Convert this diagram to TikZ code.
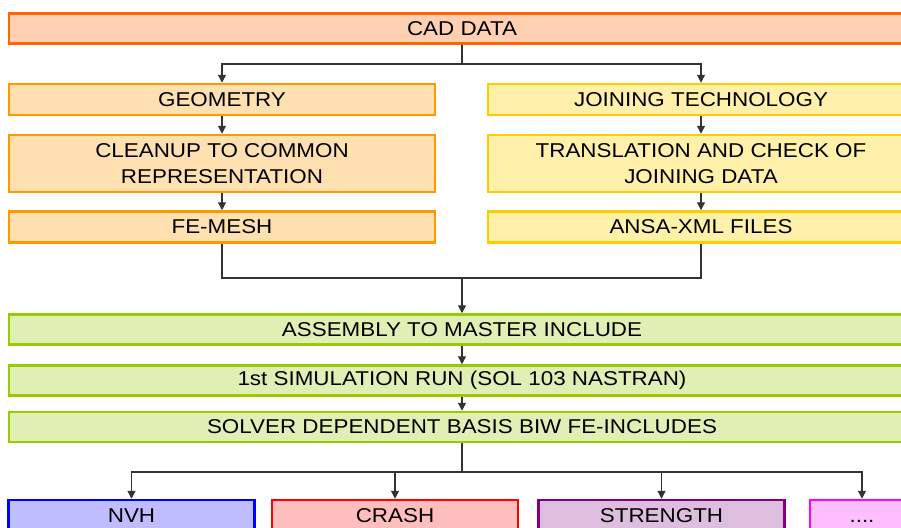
\documentclass[tikz,border=0pt]{standalone}
\usepackage{fontspec}
\setmainfont{Liberation Sans}[FakeStretch=1.12]
\usetikzlibrary{arrows.meta}
\definecolor{CadLine}{RGB}{255,102,0}
\definecolor{CadFill}{RGB}{255,208,178}
\definecolor{GeoLine}{RGB}{255,153,0}
\definecolor{GeoFill}{RGB}{255,224,176}
\definecolor{JoinLine}{RGB}{255,204,0}
\definecolor{JoinFill}{RGB}{255,241,170}
\definecolor{AsmLine}{RGB}{153,204,0}
\definecolor{AsmFill}{RGB}{224,240,180}
\definecolor{NvhLine}{RGB}{0,0,255}
\definecolor{NvhFill}{RGB}{190,190,255}
\definecolor{CrashLine}{RGB}{255,0,0}
\definecolor{CrashFill}{RGB}{255,190,190}
\definecolor{StrLine}{RGB}{128,0,128}
\definecolor{StrFill}{RGB}{222,190,222}
\definecolor{MoreLine}{RGB}{255,0,255}
\definecolor{MoreFill}{RGB}{255,190,255}

\begin{document}
\begin{tikzpicture}[
  x=1pt, y=-1pt,
  font=\fontsize{20}{26}\selectfont,
  box/.style={draw, line width=2.5pt, rectangle, inner sep=0pt, align=center},
  wide/.style={box, minimum width=906pt, minimum height=30pt},
  half/.style={box, minimum width=426pt, minimum height=31pt},
  leaf/.style={box, minimum width=246pt, minimum height=31pt},
  link/.style={draw=black!80, line width=1.2pt},
  arr/.style={link, -{Triangle[length=8pt,width=8pt]}},
]
\clip (0,0) rectangle (901,527);

% Row: CAD data
\node[wide, draw=CadLine, fill=CadFill] (cad) at (462,28.5) {CAD DATA};

% Column: geometry
\node[half, draw=GeoLine, fill=GeoFill] (geom)  at (222,99.5) {GEOMETRY};
\node[half, draw=GeoLine, fill=GeoFill, minimum height=57pt] (clean) at (222,163.5) {CLEANUP TO COMMON\\REPRESENTATION};
\node[half, draw=GeoLine, fill=GeoFill] (mesh)  at (222,227) {FE-MESH};

% Column: joining
\node[half, draw=JoinLine, fill=JoinFill] (join)  at (701,99.5) {JOINING TECHNOLOGY};
\node[half, draw=JoinLine, fill=JoinFill, minimum height=57pt] (trans) at (701,163.5) {TRANSLATION AND CHECK OF\\JOINING DATA};
\node[half, draw=JoinLine, fill=JoinFill] (xml)   at (701,227) {ANSA-XML FILES};

% Rows: assembly and first run
\node[wide, draw=AsmLine, fill=AsmFill] (asm)    at (462,329.5) {ASSEMBLY TO MASTER INCLUDE};
\node[wide, draw=AsmLine, fill=AsmFill] (sim)    at (462,380.5) {1st SIMULATION RUN (SOL 103 NASTRAN)};
\node[wide, draw=AsmLine, fill=AsmFill] (solver) at (462,427)   {SOLVER DEPENDENT BASIS BIW FE-INCLUDES};

% Row: disciplines
\node[leaf, draw=NvhLine,   fill=NvhFill]   (nvh)    at (131.5,515.5) {NVH};
\node[leaf, draw=CrashLine, fill=CrashFill] (crash)  at (395,515.5)   {CRASH};
\node[leaf, draw=StrLine,   fill=StrFill]   (str)    at (661.5,515.5) {STRENGTH};
\node[leaf, draw=MoreLine,  fill=MoreFill, minimum width=104pt] (more) at (862,515.5) {\vphantom{S}....};

% Connectors
\coordinate (split)   at (462,64);
\coordinate (merge)   at (462,278);
\coordinate (fan)     at (462,472);
\draw[link] (cad) -- (split);
\draw[arr] (split) -| (geom.north);
\draw[arr] (split) -| (join.north);
\draw[arr] (geom) -- (clean);
\draw[arr] (clean) -- (mesh);
\draw[arr] (join) -- (trans);
\draw[arr] (trans) -- (xml);
\draw[link] (mesh.south) |- (merge) -| (xml.south);
\draw[arr] (merge) -- (asm.north);
\draw[arr] (asm) -- (sim);
\draw[arr] (sim) -- (solver);
\draw[link] (solver) -- (fan);
\draw[arr] (fan) -| (nvh.north);
\draw[arr] (fan) -| (crash.north);
\draw[arr] (fan) -| (str.north);
\draw[arr] (fan) -| (more.north);

\end{tikzpicture}
\end{document}
